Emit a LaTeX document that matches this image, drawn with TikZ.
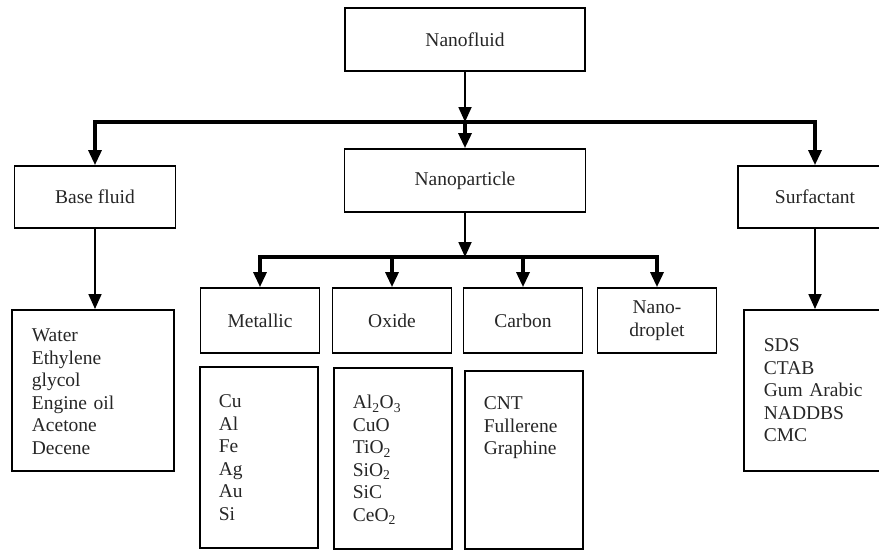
\documentclass[tikz,border=0pt]{standalone}
\usepackage{fontspec}
\setmainfont{Liberation Serif}
\usetikzlibrary{arrows.meta}
\tikzset{
  box/.style={draw, line width=1.8pt, inner sep=0pt, align=center, text=black!85},
  listbox/.style={draw, line width=1.8pt, anchor=north west, align=left, inner ysep=0pt, text=black!85},
  bar/.style={line width=3.2pt, -{Triangle[length=15pt,width=13pt]}},
  stem/.style={line width=1.8pt, -{Triangle[length=15pt,width=13pt]}}
}
\begin{document}
\begin{tikzpicture}[x=1pt,y=-1pt,line join=miter,font=\fontsize{19.5}{22.5}\selectfont]
  \useasboundingbox (0,0) rectangle (879,550);
  \coordinate (hub) at (465,122);
  \coordinate (subhub) at (465,257);

  % Main boxes
  \node[box, minimum width=240pt, minimum height=63pt] (nf) at (465,39.5) {Nanofluid};
  \node[box, minimum width=161pt, minimum height=62pt] (bf) at (95,197) {Base fluid};
  \node[box, minimum width=241pt, minimum height=63pt] (np) at (465,180.5) {Nanoparticle};
  \node[box, minimum width=154pt, minimum height=62pt] (sf) at (815,197) {Surfactant};

  % Particle types
  \node[box, minimum width=119pt, minimum height=65pt] (met) at (260,320.5) {Metallic};
  \node[box, minimum width=119pt, minimum height=65pt] (ox) at (392,320.5) {Oxide};
  \node[box, minimum width=119pt, minimum height=65pt] (carb) at (523,320.5) {Carbon};
  \node[box, minimum width=119pt, minimum height=65pt] (drop) at (657,320.5) {Nano-\\droplet};

  % Lists
  \node[listbox, inner xsep=20pt, text width=122pt, text height=32pt, text depth=129pt] (bflist) at (11,309)
    {Water\\Ethylene\\glycol\\Engine oil\\Acetone\\Decene};
  \node[listbox, inner xsep=19pt, text width=80pt, text height=41pt, text depth=140pt] (metlist) at (199,366)
    {Cu\\Al\\Fe\\Ag\\Au\\Si};
  \node[listbox, inner xsep=19pt, text width=80pt, text height=41pt, text depth=140pt] (oxlist) at (333,367)
    {Al\textsubscript{2}O\textsubscript{3}\\CuO\\TiO\textsubscript{2}\\SiO\textsubscript{2}\\SiC\\CeO\textsubscript{2}};
  \node[listbox, inner xsep=19pt, text width=80pt, text height=39pt, text depth=139pt] (carblist) at (464,370)
    {CNT\\Fullerene\\Graphine};
  \node[listbox, inner xsep=20pt, text width=104pt, text height=42pt, text depth=119pt] (sflist) at (743,309)
    {SDS\\CTAB\\Gum Arabic\\NADDBS\\CMC};

  % Connectors
  \draw[stem] (nf) -- (hub);
  \draw[bar] (hub) -| (bf);
  \draw[bar] (hub) -- (np);
  \draw[bar] (hub) -| (sf);
  \draw[stem] (np) -- (subhub);
  \draw[bar] (subhub) -| (met);
  \draw[bar] (subhub) -| (ox);
  \draw[bar] (subhub) -| (carb);
  \draw[bar] (subhub) -| (drop);
  \draw[stem] (bf.south) -- (bf.south |- bflist.north);
  \draw[stem] (sf.south) -- (sf.south |- sflist.north);
\end{tikzpicture}
\end{document}
